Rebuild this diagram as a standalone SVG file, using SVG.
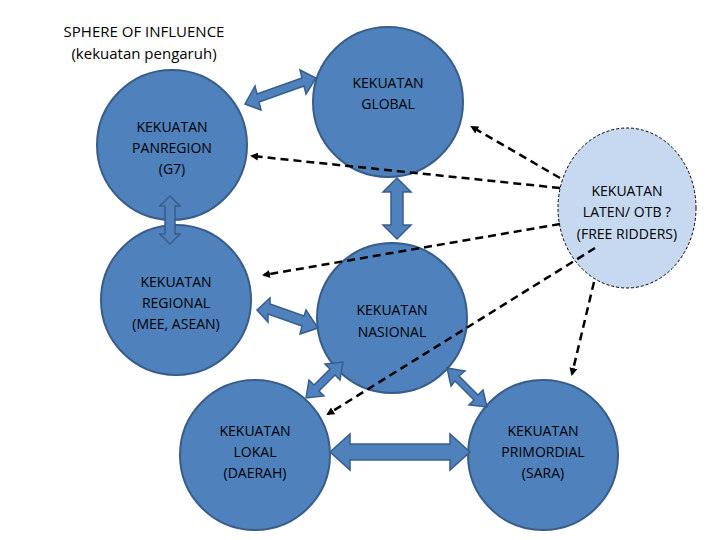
<svg xmlns="http://www.w3.org/2000/svg" width="720" height="540" viewBox="0 0 720 540">
<style>
text{font-family:"Open Sans","Liberation Sans",sans-serif;font-size:14px;fill:#000;text-anchor:middle}
.n{fill:#4f81bd;stroke:#385d8a;stroke-width:2}
.l{fill:#c6d9f1;stroke:#000;stroke-width:1;stroke-dasharray:3 2}
.b{fill:#4f81bd;stroke:#385d8a;stroke-width:1.5}
.d{stroke:#000;stroke-width:2.5;stroke-dasharray:8 5;fill:none;marker-end:url(#ah)}
</style>
<defs>
<marker id="ah" markerWidth="8" markerHeight="8" refX="6" refY="4" orient="auto" markerUnits="userSpaceOnUse"><path d="M0,0L8,4L0,8z" fill="#000"/></marker>
<path id="dbl" d="M0,0L14,-12L14,-5L-14,-5L-14,-12Z"/>
</defs>
<rect width="720" height="540" fill="#fff"/>
<text x="144" y="37" style="font-size:15px">SPHERE OF INFLUENCE</text>
<text x="144" y="59" style="font-size:15px">(kekuatan pengaruh)</text>
<g id="global"><circle class="n" cx="388" cy="102" r="75"/><text x="388" y="88">KEKUATAN</text><text x="388" y="109">GLOBAL</text></g>
<g id="panregion"><circle class="n" cx="172" cy="145" r="75"/><text x="172" y="132">KEKUATAN</text><text x="172" y="153">PANREGION</text><text x="172" y="174">(G7)</text></g>
<g id="regional"><circle class="n" cx="176" cy="300" r="75"/><text x="176" y="287">KEKUATAN</text><text x="176" y="308">REGIONAL</text><text x="176" y="329">(MEE, ASEAN)</text></g>
<g id="nasional"><circle class="n" cx="392" cy="318" r="75"/><text x="392" y="315">KEKUATAN</text><text x="392" y="337">NASIONAL</text></g>
<g id="lokal"><circle class="n" cx="255" cy="455" r="75"/><text x="255" y="436">KEKUATAN</text><text x="255" y="457">LOKAL</text><text x="255" y="478">(DAERAH)</text></g>
<g id="primordial"><circle class="n" cx="543" cy="455" r="75"/><text x="543" y="436">KEKUATAN</text><text x="543" y="457">PRIMORDIAL</text><text x="543" y="478">(SARA)</text></g>
<g id="laten"><ellipse class="l" cx="627" cy="208" rx="69" ry="80"/><text x="627" y="196">KEKUATAN</text><text x="627" y="217">LATEN/ OTB ?</text><text x="627" y="239">(FREE RIDDERS)</text></g>
<g id="connectors">
<polygon class="b" points="245,104 255,86 257,94 302,78 300,70 316,78 306,94 304,86 259,102 261,110"/>
<polygon class="b" points="170,196 180,206 175,206 175,234 180,234 170,244 160,234 165,234 165,206 160,206"/>
<polygon class="b" points="397,178 411,192 403,192 403,225 411,225 397,239 383,225 391,225 391,192 383,192"/>
<polygon class="b" points="257,310 270,298 270,304 304,316 306,310 318,328 300,334 302,326 268,314 268,322"/>
<polygon class="b" points="306,398 309,380 314,385 330,369 325,364 343,362 340,380 335,375 319,391 324,396"/>
<polygon class="b" points="447,368 465,371 459,376 478,395 483,390 487,407 469,405 474,400 455,381 451,386"/>
<polygon class="b" points="330,452 350,434 350,444 450,444 450,434 470,452 450,470 450,460 350,460 350,470"/>
<path class="d" d="M560,178L472,127"/>
<path class="d" d="M560,188L252,156"/>
<path class="d" d="M560,224L264,275"/>
<path class="d" d="M595,248L328,414"/>
<path class="d" d="M594,282L572,374"/>
</g>
</svg>
